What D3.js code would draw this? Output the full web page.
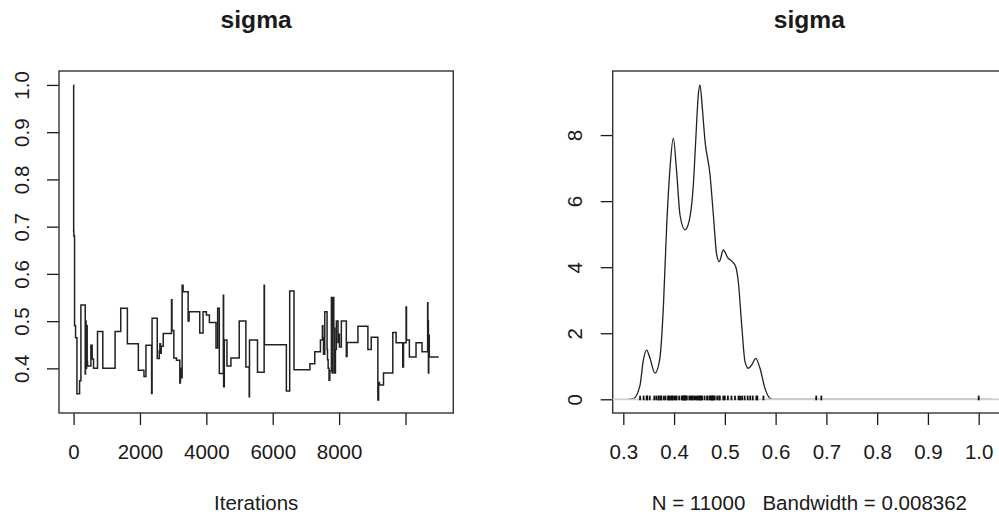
<!DOCTYPE html>
<meta charset="utf-8">
<html lang="en">
<head>
<script src="https://d3js.org/d3.v7.min.js"></script>
<style>
  body { margin: 0; background: #fff; }
  svg text { font-family: "Liberation Sans", Arial, sans-serif; fill: #1a1a1a; }
</style>
</head>
<body>
<script>

// trace: iteration where the chain value changes, and the new value
var traceIter = [1, 3, 8, 30, 60, 101, 181, 221, 351, 360,
                 365, 370, 377, 385, 392, 400, 410, 421, 521, 560,
                 601, 721, 881, 1251, 1421, 1621, 1951, 2121, 2181, 2351,
                 2365, 2521, 2581, 2600, 2620, 2640, 2701, 2951, 2965, 3021,
                 3101, 3201, 3220, 3240, 3271, 3300, 3451, 3480, 3801, 3901,
                 4001, 4091, 4291, 4341, 4391, 4511, 4520, 4541, 4621, 4741,
                 4991, 5191, 5291, 5300, 5541, 5741, 5750, 6411, 6511, 6641,
                 7121, 7267, 7437, 7497, 7510, 7530, 7567, 7637, 7650, 7670,
                 7697, 7720, 7767, 7790, 7817, 7840, 7867, 7890, 7917, 7967,
                 7990, 8010, 8067, 8217, 8240, 8567, 8867, 8967, 9167, 9190,
                 9217, 9337, 9617, 9717, 9917, 9940, 10017, 10030, 10117, 10317,
                 10497, 10667, 10675, 10680, 10690, 10700, 10717, 11000];
var traceValue = [1.0, 0.69, 0.68, 0.49, 0.465, 0.346, 0.374, 0.534, 0.388, 0.47,
                  0.41, 0.50, 0.43, 0.40, 0.445, 0.49, 0.415, 0.405, 0.449, 0.42,
                  0.40, 0.478, 0.40, 0.478, 0.527, 0.452, 0.396, 0.383, 0.449, 0.347,
                  0.506, 0.421, 0.437, 0.452, 0.432, 0.447, 0.474, 0.545, 0.48, 0.422,
                  0.417, 0.369, 0.40, 0.38, 0.576, 0.562, 0.50, 0.52, 0.475, 0.52,
                  0.513, 0.497, 0.443, 0.527, 0.389, 0.555, 0.361, 0.46, 0.405, 0.422,
                  0.50, 0.403, 0.34, 0.46, 0.392, 0.576, 0.45, 0.352, 0.564, 0.397,
                  0.41, 0.435, 0.46, 0.49, 0.465, 0.43, 0.52, 0.44, 0.418, 0.40,
                  0.375, 0.395, 0.55, 0.39, 0.55, 0.485, 0.39, 0.44, 0.50, 0.455,
                  0.472, 0.445, 0.50, 0.425, 0.455, 0.489, 0.44, 0.466, 0.333, 0.37,
                  0.365, 0.39, 0.476, 0.454, 0.403, 0.454, 0.53, 0.46, 0.424, 0.454,
                  0.435, 0.539, 0.45, 0.50, 0.39, 0.47, 0.424, 0.424];

// density estimate
var densX = [0.310, 0.320, 0.333, 0.339, 0.346, 0.3526, 0.3624, 0.372, 0.3788, 0.3855,
             0.392, 0.3985, 0.405, 0.4117, 0.4215, 0.4294, 0.4379, 0.4432, 0.4477, 0.451,
             0.4556, 0.461, 0.4708, 0.4774, 0.484, 0.489, 0.497, 0.5056, 0.5147, 0.5213,
             0.5265, 0.5332, 0.5397, 0.5462, 0.5529, 0.5608, 0.5692, 0.579, 0.5889, 0.595, 1.025];
var densY = [0, 0.02, 0.43, 1.14, 1.49, 1.24, 0.79, 1.24, 2.76, 5.28,
             7.0, 7.91, 6.9, 5.58, 5.13, 5.38, 6.49, 8.0, 9.22, 9.52,
             8.82, 7.81, 6.80, 5.58, 4.37, 4.17, 4.52, 4.29, 4.17, 4.02,
             3.56, 2.25, 1.14, 0.94, 1.04, 1.24, 0.94, 0.33, 0.03, 0, 0];
var densMax = 9.59;

var traceXTicks = [0, 2000, 4000, 6000, 8000, 10000];
var traceXLabels = ["0", "2000", "4000", "6000", "8000", ""];
var traceYTicks = [0.4, 0.5, 0.6, 0.7, 0.8, 0.9, 1.0];
var densXTicks = [0.3, 0.4, 0.5, 0.6, 0.7, 0.8, 0.9, 1.0];
var densYTicks = [0, 2, 4, 6, 8];

var titleText = "sigma";
var traceXLab = "Iterations";
var densXLab = "N = 11000   Bandwidth = 0.008362";

var W = 999, H = 521;
var boxTop = 71, boxBottom = 413;
var tickLen = 12;
var ink = "#1a1a1a";

var svg = d3.select("body").append("svg")
    .attr("width", W)
    .attr("height", H);

// scales (limits padded 4% like R)
var x1 = d3.scaleLinear().domain([-439, 11440]).range([59, 453.3]);
var y1 = d3.scaleLinear().domain([0.3055, 1.0295]).range([boxBottom, boxTop]);
var x2 = d3.scaleLinear().domain([0.2791, 1.0538]).range([612.7, 1006]);
var y2 = d3.scaleLinear().domain([-0.415, 9.94]).range([boxBottom, boxTop]);

function panel(xs, ys, xTicks, xLabels, yTicks, yFmt, title, xlab) {
  var x0 = xs.range()[0], xEnd = xs.range()[1];
  var cx = (x0 + xEnd) / 2;

  var xAxis = d3.axisBottom(xs).tickValues(xTicks).tickSize(tickLen).tickSizeOuter(0)
      .tickFormat(function(d, i) { return xLabels[i]; });
  var gx = svg.append("g")
      .attr("transform", "translate(0," + boxBottom + ")")
      .call(xAxis);
  gx.select(".domain").remove();
  gx.selectAll("line").attr("stroke", ink).attr("stroke-width", 1.3);
  gx.selectAll("text")
      .attr("y", 46).attr("dy", 0)
      .attr("fill", ink)
      .style("font-size", "20.5px")
      .style("font-family", "'Liberation Sans', Arial, sans-serif");

  var yAxis = d3.axisLeft(ys).tickValues(yTicks).tickSize(tickLen).tickSizeOuter(0)
      .tickFormat(yFmt);
  var gy = svg.append("g")
      .attr("transform", "translate(" + x0 + ",0)")
      .call(yAxis);
  gy.select(".domain").remove();
  gy.selectAll("line").attr("stroke", ink).attr("stroke-width", 1.3);
  gy.selectAll("text")
      .attr("x", null).attr("dy", 0)
      .attr("transform", "translate(-30.5,0) rotate(-90)")
      .attr("text-anchor", "middle")
      .attr("fill", ink)
      .style("font-size", "20.5px")
      .style("font-family", "'Liberation Sans', Arial, sans-serif");

  // box
  svg.append("rect")
      .attr("x", x0).attr("y", boxTop)
      .attr("width", xEnd - x0).attr("height", boxBottom - boxTop)
      .attr("fill", "none")
      .attr("stroke", "#333")
      .attr("stroke-width", 1.4);

  svg.append("text")
      .attr("x", cx).attr("y", 28)
      .attr("text-anchor", "middle")
      .style("font-size", "24.6px")
      .style("font-weight", "bold")
      .text(title);

  svg.append("text")
      .attr("x", cx).attr("y", 510)
      .attr("text-anchor", "middle")
      .style("font-size", "20.5px")
      .style("white-space", "pre")
      .text(xlab);
}

panel(x1, y1, traceXTicks, traceXLabels, traceYTicks, d3.format(".1f"), titleText, traceXLab);
panel(x2, y2, densXTicks, densXTicks.map(d3.format(".1f")), densYTicks, d3.format("d"), titleText, densXLab);

// trace line
var trace = traceIter.map(function(d, i) { return [d, traceValue[i]]; });
svg.append("path")
    .datum(trace)
    .attr("fill", "none")
    .attr("stroke", "#222")
    .attr("stroke-width", 1.5)
    .attr("d", d3.line()
        .x(function(d) { return x1(d[0]); })
        .y(function(d) { return y1(d[1]); })
        .curve(d3.curveStepAfter));

// density curve
var dens = densX.map(function(d, i) { return [d, densY[i]]; });
svg.append("path")
    .datum(dens)
    .attr("fill", "none")
    .attr("stroke", "#222")
    .attr("stroke-width", 1.3)
    .attr("d", d3.line()
        .x(function(d) { return x2(d[0]); })
        .y(function(d) { return y2(d[1]); })
        .curve(d3.curveMonotoneX));

// zero line
svg.append("line")
    .attr("x1", 612.7).attr("x2", W)
    .attr("y1", y2(0)).attr("y2", y2(0))
    .attr("stroke", "#cfcfcf")
    .attr("stroke-width", 1.8);

// observations along the bottom
var obs = Array.from(new Set(traceValue));
svg.append("g").selectAll("line")
    .data(obs)
    .enter().append("line")
    .attr("x1", function(d) { return x2(d); })
    .attr("x2", function(d) { return x2(d); })
    .attr("y1", y2(0) + 1)
    .attr("y2", y2(densMax / 100) - 0.5)
    .attr("stroke", "#111")
    .attr("stroke-width", 1.8);

</script>
</body>
</html>
